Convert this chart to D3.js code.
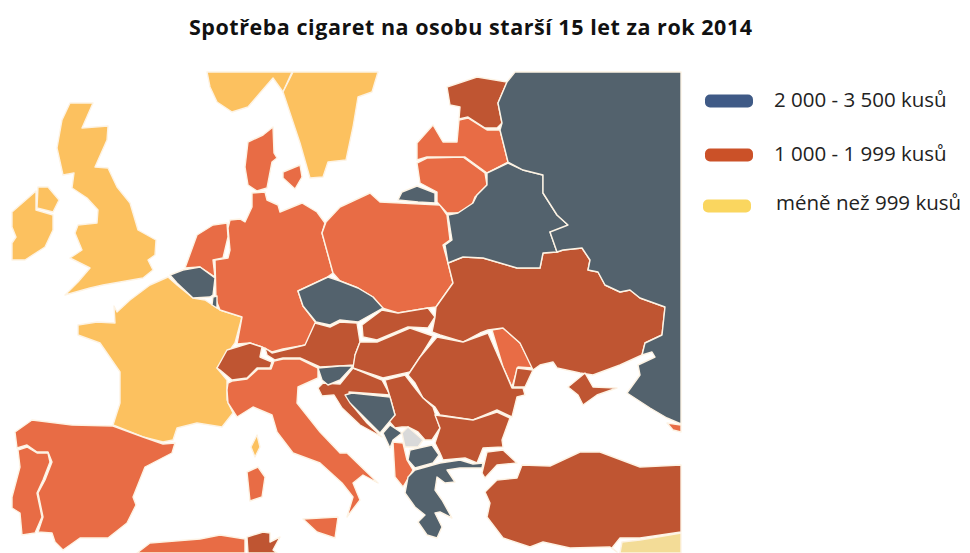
<!DOCTYPE html>
<html>
<head>
<meta charset="utf-8">
<script src="https://d3js.org/d3.v7.min.js"></script>
<style>
  html, body { margin: 0; padding: 0; background: #fff; }
  svg { display: block; }
</style>
</head>
<body>
<div id="map"></div>
<script>
  // Outlines, in map units
  var norway = [[207,72],[292,72],[283,92],[273,78],[260,93],[248,107],[232,112],[217,102],[210,87]]
  var sweden = [[293,72],[378,72],[372,92],[358,97],[353,127],[346,160],[328,162],[323,177],[310,178],[300,143],[283,92]]
  var uk = [[70,103],[93,103],[82,128],[108,126],[107,140],[95,167],[108,168],[117,187],[130,203],[138,230],[156,240],[155,255],[148,260],[153,270],[143,278],[103,285],[90,288],[65,295],[78,282],[90,268],[70,258],[82,250],[75,233],[78,225],[97,223],[98,210],[87,198],[72,188],[74,173],[63,175],[57,148],[62,120]]
  var nIreland = [[38,187],[48,187],[59,200],[53,212],[37,208]]
  var ireland = [[36,191],[36,210],[53,215],[53,230],[45,247],[25,260],[12,260],[12,243],[16,237],[12,227],[12,212]]
  var denmark = [[273,127],[274,153],[277,158],[272,162],[267,188],[257,191],[248,185],[245,167],[248,142],[263,135]]
  var zealand = [[300,165],[302,177],[295,189],[283,178],[283,172]]
  var germany = [[252,193],[265,192],[267,200],[278,205],[280,212],[302,203],[317,212],[325,223],[322,233],[333,273],[326,278],[298,291],[303,306],[316,323],[306,345],[283,349],[272,352],[262,347],[250,343],[237,344],[242,317],[220,310],[216,300],[215,260],[228,258],[230,250],[228,228],[230,220],[240,219],[245,222],[252,207]]
  var netherlands = [[197,235],[213,225],[227,223],[228,237],[223,258],[213,260],[215,277],[200,267],[185,268]]
  var belgium = [[170,275],[183,270],[200,267],[215,278],[213,295],[210,297],[193,298],[177,283]]
  var luxembourg = [[213,297],[217,296],[217,308],[212,305]]
  var france = [[168,277],[177,285],[193,298],[205,300],[220,310],[242,317],[235,343],[217,368],[227,380],[227,400],[233,413],[222,427],[197,423],[177,428],[173,440],[163,442],[143,437],[113,425],[120,403],[120,372],[100,343],[78,335],[78,325],[97,322],[115,323],[114,306],[117,312],[130,300],[150,285]]
  var corsica = [[257,435],[260,447],[255,457],[251,447]]
  var sardinia = [[258,467],[265,477],[262,497],[250,501],[247,472]]
  var sicily = [[303,519],[338,517],[335,538],[317,532]]
  var spain = [[32,420],[72,425],[113,426],[143,437],[163,444],[175,443],[172,453],[145,467],[133,497],[136,505],[127,523],[108,538],[80,538],[63,550],[55,542],[52,533],[38,532],[43,517],[38,493],[45,480],[52,462],[48,452],[37,452],[27,445],[17,448],[15,432]]
  var portugal = [[27,447],[37,453],[48,453],[50,462],[43,480],[37,493],[42,517],[35,533],[22,535],[20,513],[12,508],[12,497],[20,467],[18,450]]
  var algeria = [[137,553],[150,543],[200,539],[220,535],[245,539],[245,553]]
  var tunisia = [[247,537],[263,532],[270,533],[270,542],[280,537],[273,550],[277,553],[248,553]]
  var italy = [[228,383],[232,381],[247,379],[258,369],[271,369],[274,361],[283,359],[300,359],[318,368],[318,378],[298,387],[297,403],[320,432],[340,453],[347,453],[378,483],[363,475],[353,483],[360,500],[347,517],[353,497],[342,483],[320,463],[293,453],[277,432],[272,415],[253,407],[237,417],[228,403],[227,390]]
  var switzerland = [[217,368],[227,350],[250,343],[262,347],[260,357],[272,362],[270,368],[257,368],[247,378],[232,380],[220,370]]
  var austria = [[265,348],[272,353],[305,345],[315,323],[330,327],[340,322],[357,323],[360,342],[355,355],[354,365],[340,366],[320,367],[300,358],[283,358],[275,360],[267,355]]
  var slovenia = [[318,368],[340,366],[353,366],[340,380],[328,385],[322,380]]
  var croatia = [[318,388],[323,383],[340,384],[353,368],[382,380],[390,395],[349,392],[352,405],[367,423],[382,437],[360,425],[342,408],[334,395],[322,396]]
  var bosnia = [[345,395],[352,393],[390,397],[395,415],[380,433],[367,420],[350,403]]
  var hungary = [[360,342],[377,342],[410,328],[433,336],[420,357],[410,372],[383,378],[353,368],[355,355]]
  var slovakia = [[362,325],[382,310],[398,313],[428,308],[435,317],[428,328],[408,327],[377,340],[363,337]]
  var czechia = [[298,291],[328,277],[340,281],[358,288],[373,297],[383,308],[358,322],[340,320],[330,325],[316,322],[303,306]]
  var poland = [[326,222],[340,207],[370,193],[380,202],[440,205],[447,215],[450,240],[443,245],[448,263],[453,283],[436,307],[428,308],[398,313],[382,308],[373,297],[358,288],[340,281],[333,273],[322,233]]
  var kaliningrad = [[398,200],[402,192],[417,186],[435,193],[435,203],[418,202]]
  var lithuania = [[417,163],[427,158],[463,157],[485,173],[487,185],[475,197],[472,205],[458,213],[447,213],[437,202],[437,192],[420,183]]
  var latvia = [[417,160],[417,143],[433,125],[443,142],[457,142],[459,120],[468,118],[487,130],[500,130],[508,162],[487,173],[465,157],[427,157]]
  var estonia = [[447,87],[477,77],[507,82],[498,103],[502,123],[497,128],[485,128],[468,117],[459,119],[460,107],[450,105]]
  var belarus = [[508,163],[523,170],[543,175],[543,193],[557,215],[568,225],[563,230],[550,232],[557,252],[543,253],[540,268],[517,268],[483,258],[463,257],[448,263],[445,245],[452,240],[448,215],[458,213],[473,203],[477,195],[487,185],[487,173]]
  var russia = [[515,72],[681,72],[681,424],[667,418],[650,408],[627,393],[640,375],[638,365],[655,357],[652,352],[642,355],[645,343],[662,335],[665,307],[640,298],[630,290],[620,292],[605,285],[598,272],[588,270],[590,260],[582,248],[563,250],[557,252],[550,232],[568,225],[557,215],[543,193],[543,175],[523,170],[508,162],[500,130],[502,123],[498,103],[507,82]]
  var georgia = [[667,423],[681,425],[681,432],[673,430]]
  var ukraine = [[436,307],[453,283],[448,263],[463,257],[483,258],[517,268],[540,268],[543,253],[557,252],[563,250],[582,248],[590,260],[588,270],[598,272],[605,285],[620,292],[630,290],[640,298],[665,307],[662,335],[645,343],[642,355],[620,365],[593,375],[580,373],[557,368],[553,362],[540,365],[533,370],[520,343],[503,328],[488,330],[480,333],[463,342],[440,335],[432,332],[435,317]]
  var odessa = [[517,368],[533,370],[525,387],[513,387]]
  var crimea = [[568,387],[585,373],[593,387],[617,388],[597,395],[583,405],[578,395]]
  var moldova = [[492,330],[503,328],[520,343],[533,368],[518,367],[512,387],[503,367]]
  var romania = [[437,337],[463,342],[488,333],[503,367],[512,388],[523,388],[525,395],[517,397],[512,417],[497,410],[473,420],[440,415],[435,407],[423,398],[415,383],[408,375],[420,357]]
  var serbia = [[385,380],[405,375],[415,388],[423,398],[433,407],[440,428],[432,440],[425,440],[418,432],[408,427],[402,427],[395,428],[388,420],[395,415],[390,397]]
  var montenegro = [[383,433],[390,425],[402,433],[393,440],[390,448]]
  var kosovo = [[408,427],[423,440],[418,447],[405,447],[402,433]]
  var albania = [[393,442],[403,443],[407,460],[413,470],[403,487],[395,477]]
  var macedonia = [[410,450],[432,445],[439,455],[433,463],[415,468],[408,460]]
  var bulgaria = [[435,415],[473,420],[497,412],[510,418],[502,440],[503,447],[483,448],[477,463],[465,458],[443,460],[440,453],[435,443],[440,428]]
  var thrace = [[487,452],[503,450],[517,463],[497,465],[485,478],[482,473]]
  var greece = [[415,470],[440,463],[460,460],[473,464],[483,463],[482,468],[460,468],[447,470],[455,482],[445,483],[437,477],[435,490],[442,500],[452,518],[440,512],[435,513],[442,527],[437,538],[427,535],[418,522],[425,515],[415,507],[405,493],[408,477]]
  var turkey = [[485,492],[497,480],[517,478],[522,465],[550,466],[580,452],[600,452],[640,467],[681,465],[681,532],[640,538],[620,538],[612,548],[617,552],[610,547],[570,548],[543,542],[530,547],[503,538],[487,517],[490,503]]
  var syria = [[681,533],[681,553],[620,553],[622,542],[640,540]]

  // Consumption band of each country
  var lowBand = [norway, sweden, uk, nIreland, ireland, france, corsica]
  var midBand = [denmark, zealand, germany, netherlands, sardinia, sicily, spain, portugal, algeria, italy, poland, lithuania, latvia, moldova, albania, georgia]
  var highMidBand = [tunisia, switzerland, austria, croatia, hungary, slovakia, estonia, ukraine, odessa, crimea, romania, serbia, bulgaria, thrace, turkey]
  var topBand = [belgium, luxembourg, slovenia, bosnia, czechia, kaliningrad, belarus, russia, montenegro, macedonia, greece]
  var noData = [kosovo]
  var otherBand = [syria]

  var legendLabels = ["2 000 - 3 500 kusů", "1 000 - 1 999 kusů", "méně než 999 kusů"]
  var legendColors = ["#3f5a86", "#cb5128", "#fad65f"]

  var width = 970
  var height = 553

  var svg = d3.select("#map")
    .append("svg")
    .attr("width", width)
    .attr("height", height)
    .attr("viewBox", `0 0 ${width} ${height}`)

  // Soft edges like the scanned original
  svg.append("defs").append("filter")
    .attr("id", "soft")
    .append("feGaussianBlur")
    .attr("stdDeviation", 0.35)

  var projection = d3.geoIdentity()
    .clipExtent([[12, 72], [681, 553]])
  var path = d3.geoPath().projection(projection)

  function toFeature(ring) {
    return { type: "Feature", geometry: { type: "Polygon", coordinates: [ring.concat([ring[0]])] } }
  }

  var bands = [
    { rings: lowBand, fill: "#fcc15f" },
    { rings: midBand, fill: "#e86c45" },
    { rings: highMidBand, fill: "#bf5433" },
    { rings: topBand, fill: "#53626d" },
    { rings: noData, fill: "#d9d9d9" },
    { rings: otherBand, fill: "#f3dc97" }
  ]

  var mapLayer = svg.append("g").attr("filter", "url(#soft)")

  bands.forEach(function (band) {
    mapLayer.append("g")
      .selectAll("path")
      .data(band.rings.map(toFeature))
      .enter()
      .append("path")
      .attr("d", path)
      .attr("fill", band.fill)
      .attr("stroke", "#fdf3e4")
      .attr("stroke-width", 1.4)
      .attr("stroke-linejoin", "round")
  })

  // Title
  svg.append("text")
    .attr("x", 189)
    .attr("y", 35)
    .attr("textLength", 563)
    .attr("lengthAdjust", "spacing")
    .attr("font-family", "'Open Sans', sans-serif")
    .attr("font-weight", 700)
    .attr("font-size", 21.5)
    .attr("fill", "#111")
    .text("Spotřeba cigaret na osobu starší 15 let za rok 2014")

  // Legend
  var legendY = d3.scaleOrdinal()
    .domain(legendLabels)
    .range([101, 155, 206])

  var legend = svg.append("g")
    .selectAll("g")
    .data(legendLabels)
    .enter()
    .append("g")
    .attr("transform", d => `translate(0, ${legendY(d)})`)

  legend.append("rect")
    .attr("x", (d, i) => i == 2 ? 703 : 705)
    .attr("y", -6.5)
    .attr("width", 48)
    .attr("height", 13)
    .attr("rx", 5)
    .attr("fill", (d, i) => legendColors[i])

  legend.append("text")
    .attr("x", (d, i) => i == 2 ? 776 : 774)
    .attr("y", (d, i) => i == 2 ? 4 : 6)
    .attr("font-family", "'Open Sans', sans-serif")
    .attr("font-size", 20.5)
    .attr("fill", "#222")
    .text(d => d)
</script>
</body>
</html>
